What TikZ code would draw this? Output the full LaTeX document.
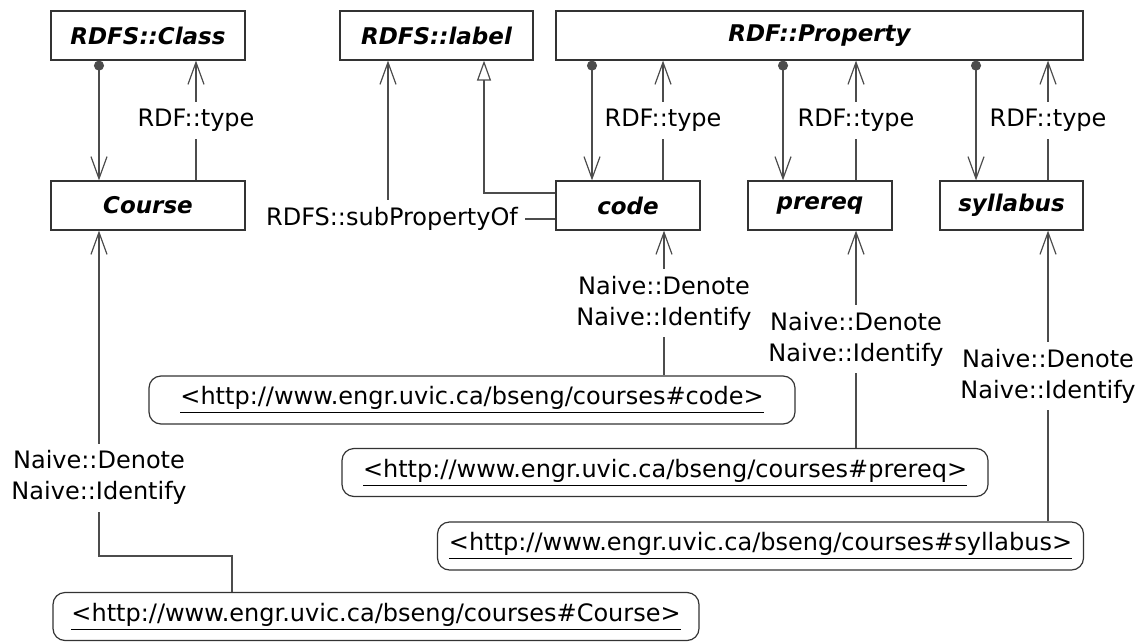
\documentclass[tikz,border=0pt]{standalone}
\usepackage{fontspec}
\setmainfont{DejaVu Sans}
\usetikzlibrary{positioning,arrows.meta}
\newcommand{\uri}[1]{\underline{<http://www.engr.uvic.ca/bseng/courses\##1>}}

\begin{document}
\begin{tikzpicture}[x=0.5pt, y=-0.5pt,
  font=\fontsize{12}{15.5}\selectfont,
  cls/.style={draw=black!80, line width=0.6pt, font=\fontsize{11.5}{15.5}\selectfont\bfseries\itshape, minimum height=24.5pt, inner sep=0pt},
  uri/.style={draw=black!80, line width=0.6pt, rounded corners=6pt, minimum width=323pt, minimum height=24pt, inner sep=0pt},
  lab/.style={fill=white, inner sep=3.5pt, align=center},
  conn/.style={draw=black!70, line width=0.6pt},
  arr/.style={conn, -{Straight Barb[length=11pt, width=8pt]}},
  dotarr/.style={conn, {Circle[length=5pt]}-{Straight Barb[length=11pt, width=8pt]}},
  gen/.style={conn, -{Triangle[open, length=10pt, width=7pt, fill=white]}}]
\useasboundingbox (0,0) rectangle (1138,642);
\node[cls, minimum width=97pt] (rdfscls) at (148,35.5) {RDFS::Class};
\node[cls, minimum width=96.5pt] (rdfslbl) at (436.5,35.5) {RDFS::label};
\node[cls, minimum width=263.5pt] (rdfprop) at (819.5,35.5) {RDF::Property};
\node[cls, minimum width=97pt] (course) at (148,205.5) {Course};
\node[cls, minimum width=72pt] (code) at (628,205.5) {code};
\node[cls, minimum width=72pt] (prereq) at (820,205.5) {prereq};
\node[cls, minimum width=71.5pt] (syllabus) at (1011.5,205.5) {syllabus};
\node[uri] (ucode) at (472,400) {\uri{code}};
\node[uri] (uprereq) at (665,472.5) {\uri{prereq}};
\node[uri] (usyllabus) at (760.5,546) {\uri{syllabus}};
\node[uri] (ucourse) at (376,616.5) {\uri{Course}};
\draw[dotarr] ([xshift=-24.5pt]course.north |- rdfscls.south) -- ([xshift=-24.5pt]course.north);
\draw[arr] ([xshift=24pt]course.north) -- node[lab] {RDF::type} ([xshift=24pt]course.north |- rdfscls.south);
\draw[dotarr] ([xshift=-18pt]code.north |- rdfprop.south) -- ([xshift=-18pt]code.north);
\draw[arr] ([xshift=17.5pt]code.north) -- node[lab] {RDF::type} ([xshift=17.5pt]code.north |- rdfprop.south);
\draw[dotarr] ([xshift=-18.5pt]prereq.north |- rdfprop.south) -- ([xshift=-18.5pt]prereq.north);
\draw[arr] ([xshift=18pt]prereq.north) -- node[lab] {RDF::type} ([xshift=18pt]prereq.north |- rdfprop.south);
\draw[dotarr] ([xshift=-17.75pt]syllabus.north |- rdfprop.south) -- ([xshift=-17.75pt]syllabus.north);
\draw[arr] ([xshift=18.25pt]syllabus.north) -- node[lab] {RDF::type} ([xshift=18.25pt]syllabus.north |- rdfprop.south);
\node[lab] (subp) at (392,219) {RDFS::subPropertyOf};
\draw[conn] (subp.east) -- (subp.east -| code.west);
\draw[arr] ([xshift=-2pt]subp.north) -- ([xshift=-2pt]subp.north |- rdfslbl.south);
\draw[gen] ([yshift=6.25pt]code.west) -| ([xshift=23.75pt]rdfslbl.south);
\draw[arr] ([xshift=18pt]code.south |- ucode.north) -- node[lab] {Naive::Denote\\Naive::Identify} ([xshift=18pt]code.south);
\draw[arr] ([xshift=18pt]prereq.south |- uprereq.north) -- node[lab] {Naive::Denote\\Naive::Identify} ([xshift=18pt]prereq.south);
\draw[arr] ([xshift=18.25pt]syllabus.south |- usyllabus.north) -- node[lab] {Naive::Denote\\Naive::Identify} ([xshift=18.25pt]syllabus.south);
\draw[arr] ([xshift=-72pt]ucourse.north) -- ++(0,-36) -| node[lab, pos=0.62] {Naive::Denote\\Naive::Identify} ([xshift=-24.5pt]course.south);
\end{tikzpicture}
\end{document}
